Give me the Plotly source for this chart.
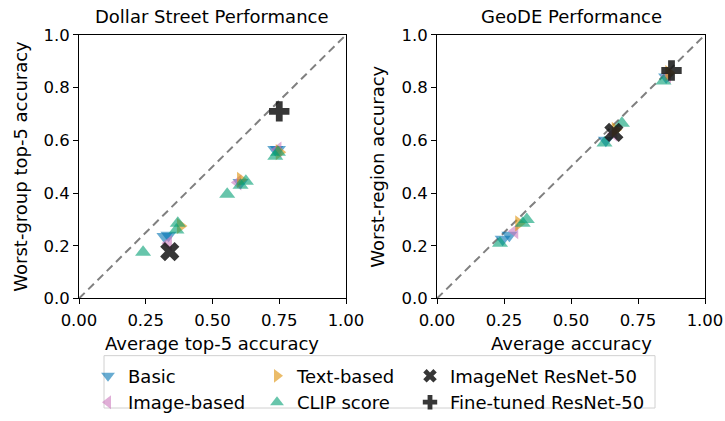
import plotly.graph_objects as go

# ---------------- data ----------------
# Dollar Street (left panel): (average top-5 accuracy, worst-group top-5 accuracy)
ds_basic_x = [0.32, 0.335, 0.605, 0.735, 0.745]
ds_basic_y = [0.235, 0.24, 0.44, 0.565, 0.565]
ds_image_x = [0.335, 0.595, 0.745]
ds_image_y = [0.21, 0.44, 0.565]
ds_text_x = [0.38, 0.605, 0.75]
ds_text_y = [0.275, 0.45, 0.555]
ds_clip_x = [0.24, 0.365, 0.37, 0.555, 0.605, 0.625, 0.735, 0.745]
ds_clip_y = [0.175, 0.26, 0.285, 0.395, 0.43, 0.445, 0.54, 0.555]
ds_imagenet_x = [0.34]
ds_imagenet_y = [0.178]
ds_finetuned_x = [0.75]
ds_finetuned_y = [0.71]

# GeoDE (right panel): (average accuracy, worst-region accuracy)
ge_basic_x = [0.245, 0.27, 0.63, 0.855]
ge_basic_y = [0.225, 0.24, 0.6, 0.84]
ge_image_x = [0.29, 0.66, 0.86]
ge_image_y = [0.255, 0.625, 0.845]
ge_text_x = [0.305, 0.665, 0.865]
ge_text_y = [0.285, 0.64, 0.855]
ge_clip_x = [0.235, 0.32, 0.335, 0.625, 0.69, 0.845]
ge_clip_y = [0.21, 0.285, 0.3, 0.59, 0.665, 0.825]
ge_imagenet_x = [0.66]
ge_imagenet_y = [0.63]
ge_finetuned_x = [0.875]
ge_finetuned_y = [0.865]

diag = [0, 1]
x_ticks = [0, 0.25, 0.5, 0.75, 1.0]
x_tick_labels = ["0.00", "0.25", "0.50", "0.75", "1.00"]
y_ticks = [0, 0.2, 0.4, 0.6, 0.8, 1.0]
y_tick_labels = ["0.0", "0.2", "0.4", "0.6", "0.8", "1.0"]

# ---------------- styles ----------------
FONT = "DejaVu Sans"
BLUE = "rgba(1,115,178,0.6)"
ORANGE = "rgba(222,143,5,0.6)"
GREEN = "rgba(2,158,115,0.6)"
PINK = "rgba(204,120,188,0.6)"
DARK = "rgba(20,20,20,0.85)"

series = [
    ("Basic", "triangle-down", BLUE, 14, "legend", ds_basic_x, ds_basic_y, ge_basic_x, ge_basic_y),
    ("Image-based", "triangle-left", PINK, 14, "legend", ds_image_x, ds_image_y, ge_image_x, ge_image_y),
    ("Text-based", "triangle-right", ORANGE, 14, "legend2", ds_text_x, ds_text_y, ge_text_x, ge_text_y),
    ("CLIP score", "triangle-up", GREEN, 14, "legend2", ds_clip_x, ds_clip_y, ge_clip_x, ge_clip_y),
    ("ImageNet ResNet-50", "x", DARK, 17, "legend3", ds_imagenet_x, ds_imagenet_y, ge_imagenet_x, ge_imagenet_y),
    ("Fine-tuned ResNet-50", "cross", DARK, 17, "legend3", ds_finetuned_x, ds_finetuned_y, ge_finetuned_x, ge_finetuned_y),
]

fig = go.Figure()

for xa, ya in [("x", "y"), ("x2", "y2")]:
    fig.add_trace(go.Scatter(x=diag, y=diag, mode="lines", xaxis=xa, yaxis=ya,
                             line=dict(color="#808080", width=2, dash="8px,5px"),
                             showlegend=False, hoverinfo="skip"))

for name, sym, col, size, leg, dx, dy, gx, gy in series:
    fig.add_trace(go.Scatter(x=dx, y=dy, mode="markers", name=name, legend=leg,
                             marker=dict(symbol=sym, color=col, size=size, line=dict(width=0)),
                             xaxis="x", yaxis="y", showlegend=True))
    fig.add_trace(go.Scatter(x=gx, y=gy, mode="markers", name=name, legend=leg,
                             marker=dict(symbol=sym, color=col, size=size, line=dict(width=0)),
                             xaxis="x2", yaxis="y2", showlegend=False))

W, H = 725, 421
ydom = [1 - 308 / H, 1 - 36 / H]
axis_common = dict(range=[0, 1], showgrid=False, zeroline=False, showline=True,
                   linecolor="black", linewidth=1, mirror=True, ticks="outside",
                   ticklen=5, tickwidth=1, tickcolor="black", automargin=False,
                   tickfont=dict(family=FONT, size=16.5, color="black"))

def ann(text, x, y, size=18, angle=0):
    return dict(text=text, x=x / W, y=1 - y / H, xref="paper", yref="paper", showarrow=False,
                font=dict(size=size, family=FONT, color="black"), xanchor="center",
                yanchor="middle", textangle=angle)

fig.update_layout(
    width=W, height=H,
    margin=dict(l=0, r=0, t=0, b=0),
    paper_bgcolor="white", plot_bgcolor="white",
    font=dict(family=FONT, color="black"),
    xaxis=dict(domain=[79 / W, 346 / W], anchor="y", tickvals=x_ticks, ticktext=x_tick_labels,
               ticklabelstandoff=2, **axis_common),
    yaxis=dict(domain=ydom, anchor="x", tickvals=y_ticks, ticktext=y_tick_labels, **axis_common),
    xaxis2=dict(domain=[437 / W, 705 / W], anchor="y2", tickvals=x_ticks, ticktext=x_tick_labels,
                ticklabelstandoff=2, **axis_common),
    yaxis2=dict(domain=ydom, anchor="x2", tickvals=y_ticks, ticktext=y_tick_labels, **axis_common),
    annotations=[
        ann("Dollar Street Performance", 212.5, 17),
        ann("GeoDE Performance", 571, 17),
        ann("Average top-5 accuracy", 212.5, 354),
        ann("Average accuracy", 571, 354),
        ann("Worst-group top-5 accuracy", 21, 172, angle=-90),
        ann("Worst-region accuracy", 378, 172, angle=-90),
    ],
    shapes=[dict(type="rect", xref="paper", yref="paper", x0=104 / W, x1=655 / W,
                 y0=1 - 421 / H, y1=1 - 367 / H, line=dict(color="#d0d0d0", width=1),
                 fillcolor="rgba(0,0,0,0)")],
)

leg_common = dict(orientation="v", yanchor="top", xanchor="left", bgcolor="rgba(0,0,0,0)",
                  borderwidth=0, font=dict(family=FONT, size=18, color="black"),
                  itemsizing="constant", tracegroupgap=0)
fig.update_layout(
    legend=dict(x=88 / W, y=1 - 369 / H, **leg_common),
    legend2=dict(x=257 / W, y=1 - 369 / H, **leg_common),
    legend3=dict(x=410 / W, y=1 - 369 / H, **leg_common),
)

fig.write_html("out.html", config={"displayModeBar": False},
               post_script="document.body.style.margin='0';document.body.style.overflow='hidden';")
